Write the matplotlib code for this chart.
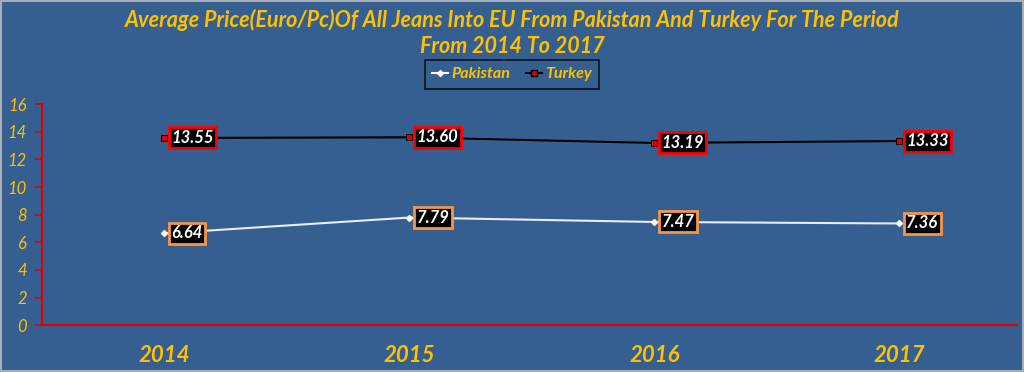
import matplotlib.pyplot as plt
from matplotlib.lines import Line2D
from matplotlib.patches import Rectangle

# === Data ===
years = ["2014", "2015", "2016", "2017"]
pakistan = [6.64, 7.79, 7.47, 7.36]
turkey = [13.55, 13.60, 13.19, 13.33]
y_ticks = [0, 2, 4, 6, 8, 10, 12, 14, 16]

# === Style ===
bg = "#365F91"
gold = "#FFC000"
font = "Lato"

fig = plt.figure(figsize=(10.24, 3.72), dpi=100, facecolor=bg)
ax = fig.add_axes([0.041, 0.126, 0.952, 0.594])
ax.set_facecolor(bg)

x = list(range(len(years)))
ax.plot(x, pakistan, color="#E6EEF8", lw=1.5, marker="D", ms=3,
        mfc="white", mec="white", zorder=3)
ax.plot(x, turkey, color="black", lw=1.5, marker="s", ms=5,
        mfc="#E00000", mec="black", mew=0.6, zorder=3)

# === Data labels ===
for xi, v in zip(x, pakistan):
    ax.annotate(f"{v:.2f}", (xi, v), xytext=(5, 0), textcoords="offset points",
                ha="left", va="center", color="white", fontsize=12,
                fontweight="bold", fontstyle="italic", family=font,
                bbox=dict(boxstyle="square,pad=0.15", fc="black",
                          ec="#F79646", lw=2), zorder=4)
for xi, v in zip(x, turkey):
    ax.annotate(f"{v:.2f}", (xi, v), xytext=(5, 0), textcoords="offset points",
                ha="left", va="center", color="white", fontsize=12,
                fontweight="bold", fontstyle="italic", family=font,
                bbox=dict(boxstyle="square,pad=0.15", fc="black",
                          ec="#FF0000", lw=2), zorder=4)

# === Axes ===
ax.set_xlim(-0.5, 3.48)
ax.set_ylim(0, 16)
ax.set_yticks(y_ticks)
ax.set_yticklabels([str(t) for t in y_ticks], color=gold, fontsize=12,
                   fontstyle="italic", family=font)
ax.set_xticks(x)
ax.set_xticklabels(years, color=gold, fontsize=16, fontweight="bold",
                   fontstyle="italic", family=font)
ax.tick_params(axis="y", colors="#E00000", length=5, width=1.2,
               direction="out", labelcolor=gold, pad=6)
ax.tick_params(axis="x", length=0, pad=14, labelcolor=gold)
for s in ["top", "right"]:
    ax.spines[s].set_visible(False)
for s in ["left", "bottom"]:
    ax.spines[s].set_color("#E00000")
    ax.spines[s].set_linewidth(1.5)

# === Title ===
fig.text(0.5, 0.945, "Average Price(Euro/Pc)Of All Jeans Into EU From Pakistan And Turkey For The Period",
         ha="center", va="center", color=gold, fontsize=15.5, fontweight="bold",
         fontstyle="italic", family=font)
fig.text(0.5, 0.875, "From 2014 To 2017", ha="center", va="center",
         color=gold, fontsize=15.5, fontweight="bold", fontstyle="italic",
         family=font)

# === Legend ===
handles = [
    Line2D([], [], color="white", lw=1.5, marker="D", ms=3, mfc="white"),
    Line2D([], [], color="black", lw=1.5, marker="s", ms=5, mfc="#E00000",
           mec="black"),
]
leg = fig.legend(handles, ["Pakistan", "Turkey"], loc="center",
                 bbox_to_anchor=(0.5, 0.80), ncol=2, frameon=True,
                 handlelength=1.0, handletextpad=0.2, columnspacing=1.0,
                 borderpad=0.45, fancybox=False,
                 prop=dict(family=font, weight="bold", style="italic", size=11.5))
leg.get_frame().set_facecolor(bg)
leg.get_frame().set_edgecolor("black")
leg.get_frame().set_linewidth(1.2)
for t in leg.get_texts():
    t.set_color(gold)

# thin light border round the chart
fig.patches.append(Rectangle((0.001, 0.002), 0.998, 0.996, transform=fig.transFigure,
                             fill=False, ec="#BFBFBF", lw=1.2))

fig.savefig("out.png", dpi=100, facecolor=bg)
